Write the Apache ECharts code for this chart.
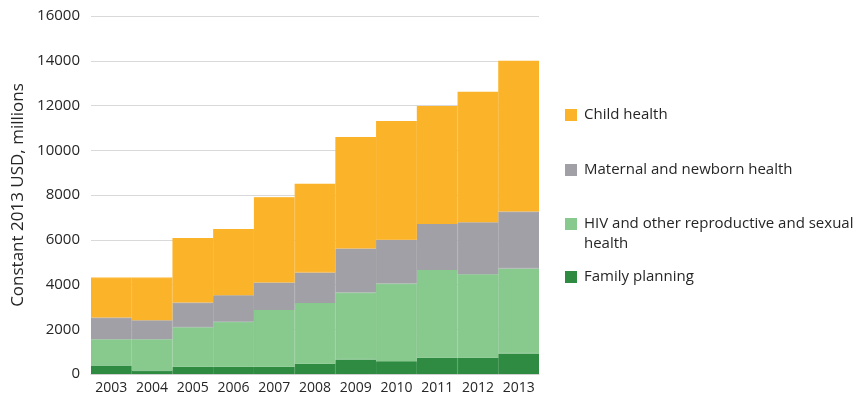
<!DOCTYPE html>
<html>
<head>
<meta charset="utf-8">
<script src="https://cdn.jsdelivr.net/npm/echarts@6/dist/echarts.min.js"></script>
<style>
  html, body { margin: 0; padding: 0; background: #fff; }
  #chart_box { width: 859px; height: 404px; }
</style>
</head>
<body>
<div id="chart_box"></div>
<script>
// years on the x axis
var years = ["2003", "2004", "2005", "2006", "2007", "2008", "2009", "2010", "2011", "2012", "2013"];
// values in constant 2013 USD, millions
var familyPlanning = [380, 155, 320, 320, 320, 455, 650, 575, 725, 725, 920];
var hivHealth = [1170, 1395, 1765, 2020, 2540, 2715, 2990, 3465, 3925, 3735, 3800];
var maternalHealth = [970, 850, 1105, 1180, 1230, 1370, 1970, 1960, 2050, 2320, 2540];
var childHealth = [1790, 1910, 2890, 2960, 3810, 3960, 4980, 5310, 5280, 5830, 6740];
var yTicks = [0, 2000, 4000, 6000, 8000, 10000, 12000, 14000, 16000];

var font = "'Open Sans', 'Noto Sans', sans-serif";
var textColor = "#262626";
var colors = {
  fp: "#2e8b41",
  hiv: "#88c98e",
  mnh: "#a0a0a6",
  child: "#fbb32a"
};

// one legend per entry so each can sit where it does in the original
function legendItem(name, top, lead) {
  return {
    orient: "vertical",
    left: 565,
    top: top,
    padding: 0,
    itemWidth: 10,
    itemHeight: 10,
    itemGap: 0,
    icon: "rect",
    selectedMode: false,
    data: [name],
    // a leading blank line keeps the icon level with the first text line
    formatter: function (n) { return lead ? "\n" + n : n; },
    textStyle: { fontFamily: font, fontSize: 15, color: textColor, lineHeight: 20, padding: [0, 0, 0, 3] }
  };
}

function barSeries(name, color, data) {
  return {
    name: name,
    type: "bar",
    stack: "total",
    barCategoryGap: "0%",
    itemStyle: { color: color, borderColor: color, borderWidth: 1.2 },
    data: data
  };
}

var hivName = "HIV and other reproductive and sexual\nhealth";

var myecharts = echarts.init(document.getElementById("chart_box"));
var option = {
  animation: false,
  textStyle: { fontFamily: font },
  grid: {
    left: 91,
    right: 320,
    top: 16,
    bottom: 30
  },
  legend: [
    legendItem("Child health", 105, false),
    legendItem("Maternal and newborn health", 160, false),
    legendItem(hivName, 194, true),
    legendItem("Family planning", 267, false)
  ],
  xAxis: {
    type: "category",
    data: years,
    axisTick: { show: false },
    axisLine: { lineStyle: { color: "#d0d0d0" } },
    axisLabel: { color: textColor, fontSize: 14, margin: 7, interval: 0, fontFamily: font }
  },
  yAxis: {
    type: "value",
    min: 0,
    max: 16000,
    interval: 2000,
    name: "Constant 2013 USD, millions",
    nameLocation: "middle",
    nameGap: 64,
    nameTextStyle: { color: textColor, fontSize: 17, fontFamily: font },
    axisLabel: {
      color: textColor,
      fontSize: 15,
      margin: 11,
      fontFamily: font,
      formatter: function (v) { return yTicks.indexOf(v) >= 0 ? String(v) : ""; }
    },
    splitLine: { lineStyle: { color: "#d9d9d9" } }
  },
  series: [
    barSeries("Family planning", colors.fp, familyPlanning),
    barSeries(hivName, colors.hiv, hivHealth),
    barSeries("Maternal and newborn health", colors.mnh, maternalHealth),
    barSeries("Child health", colors.child, childHealth)
  ]
};
myecharts.setOption(option);
</script>
</body>
</html>
